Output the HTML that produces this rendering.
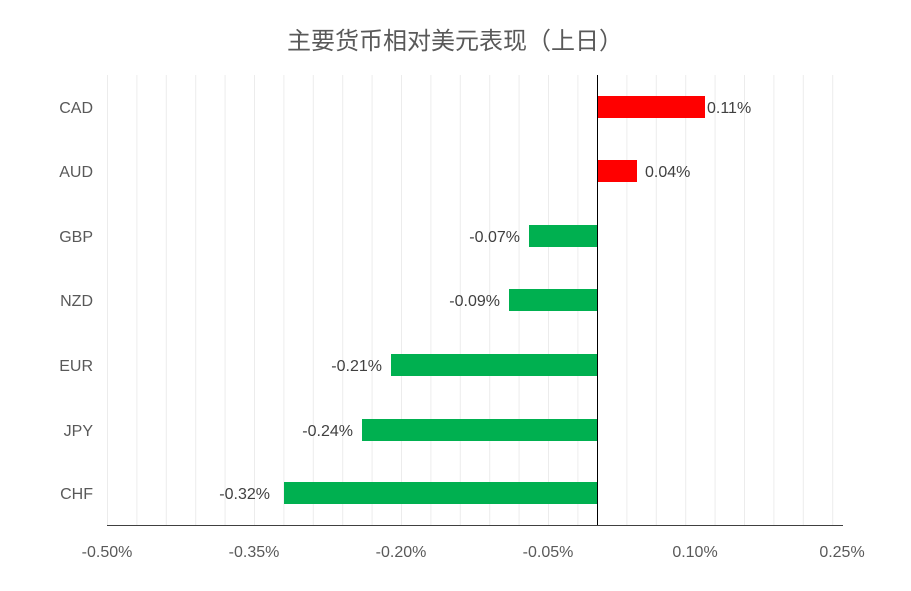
<!DOCTYPE html>
<html><head><meta charset="utf-8"><style>
body{margin:0;background:#fff;}
svg text{font-family:"Liberation Sans","Noto Sans CJK SC",sans-serif;}
</style></head><body>
<svg width="911" height="586" xmlns="http://www.w3.org/2000/svg">
<rect width="911" height="586" fill="#fff"/>
<text x="455" y="49" text-anchor="middle" font-size="24" fill="#595959">主要货币相对美元表现（上日）</text>
<g stroke="#ececec" stroke-width="1">
<line x1="107.5" y1="75" x2="107.5" y2="525"/><line x1="136.9" y1="75" x2="136.9" y2="525"/><line x1="166.3" y1="75" x2="166.3" y2="525"/><line x1="195.7" y1="75" x2="195.7" y2="525"/><line x1="225.1" y1="75" x2="225.1" y2="525"/><line x1="254.5" y1="75" x2="254.5" y2="525"/><line x1="283.9" y1="75" x2="283.9" y2="525"/><line x1="313.3" y1="75" x2="313.3" y2="525"/><line x1="342.7" y1="75" x2="342.7" y2="525"/><line x1="372.1" y1="75" x2="372.1" y2="525"/><line x1="401.5" y1="75" x2="401.5" y2="525"/><line x1="430.9" y1="75" x2="430.9" y2="525"/><line x1="460.3" y1="75" x2="460.3" y2="525"/><line x1="489.7" y1="75" x2="489.7" y2="525"/><line x1="519.1" y1="75" x2="519.1" y2="525"/><line x1="548.5" y1="75" x2="548.5" y2="525"/><line x1="577.9" y1="75" x2="577.9" y2="525"/><line x1="626.9" y1="75" x2="626.9" y2="525"/><line x1="656.3" y1="75" x2="656.3" y2="525"/><line x1="685.7" y1="75" x2="685.7" y2="525"/><line x1="715.1" y1="75" x2="715.1" y2="525"/><line x1="744.5" y1="75" x2="744.5" y2="525"/><line x1="773.9" y1="75" x2="773.9" y2="525"/><line x1="803.3" y1="75" x2="803.3" y2="525"/><line x1="832.7" y1="75" x2="832.7" y2="525"/>
</g>
<line x1="107" y1="525.5" x2="843" y2="525.5" stroke="#404040"/>
<line x1="597.5" y1="75" x2="597.5" y2="525" stroke="#000"/>
<g fill="#ff0000"><rect x="598" y="96" width="107" height="22"/><rect x="598" y="160" width="39" height="22"/></g>
<g fill="#00b050"><rect x="529" y="225" width="68" height="22"/><rect x="509" y="289" width="88" height="22"/><rect x="391" y="354" width="206" height="22"/><rect x="362" y="419" width="235" height="22"/><rect x="284" y="482" width="313" height="22"/></g>
<g font-size="16" fill="#595959" text-anchor="end">
<text x="93" y="113">CAD</text><text x="93" y="177">AUD</text><text x="93" y="242">GBP</text><text x="93" y="306">NZD</text><text x="93" y="371">EUR</text><text x="93" y="436">JPY</text><text x="93" y="499">CHF</text>
</g>
<g font-size="16" fill="#404040">
<text x="707" y="113">0.11%</text><text x="645" y="177">0.04%</text>
<text x="520" y="242" text-anchor="end">-0.07%</text><text x="500" y="306" text-anchor="end">-0.09%</text><text x="382" y="371" text-anchor="end">-0.21%</text><text x="353" y="436" text-anchor="end">-0.24%</text><text x="270" y="499" text-anchor="end">-0.32%</text>
</g>
<g font-size="16" fill="#595959" text-anchor="middle">
<text x="107" y="557">-0.50%</text><text x="254" y="557">-0.35%</text><text x="401" y="557">-0.20%</text><text x="548" y="557">-0.05%</text><text x="695" y="557">0.10%</text><text x="842" y="557">0.25%</text>
</g>
</svg>
</body></html>
